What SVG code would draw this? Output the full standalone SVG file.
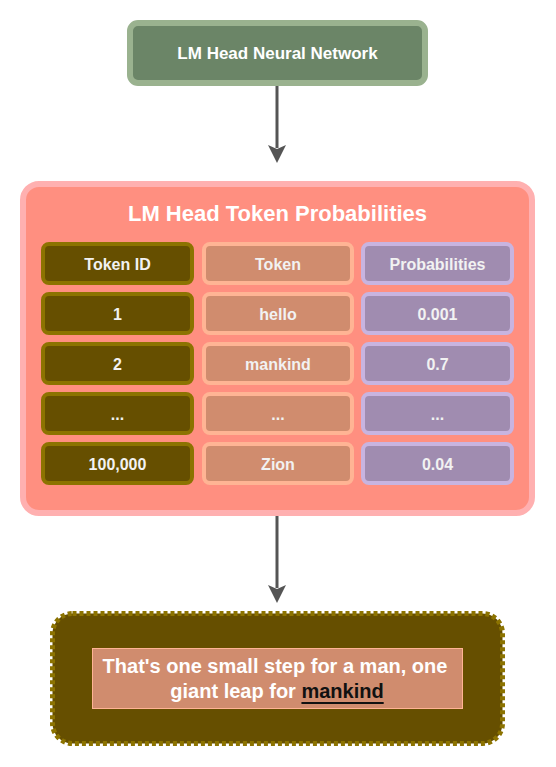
<svg xmlns="http://www.w3.org/2000/svg" width="556" height="767" viewBox="0 0 556 767">
<style>
text{font-family:"Liberation Sans",Arial,sans-serif;font-weight:bold;text-anchor:middle;dominant-baseline:central}
.c1{fill:#664f00;stroke:#8c7300;stroke-width:4}
.c2{fill:#d08c6e;stroke:#ffb494;stroke-width:4}
.c3{fill:#a08cb0;stroke:#c8b4e0;stroke-width:4}
.t{font-size:16px;fill:#f2f2f2}
.conn{stroke:#555;stroke-width:3;fill:none}
</style>
<rect width="556" height="767" fill="#ffffff"/>
<g id="connectors">
<line class="conn" x1="277" y1="86" x2="277" y2="148"/>
<path d="M268,145 L277,149 L286,145 L277,163 Z" fill="#555"/>
<line class="conn" x1="277" y1="516" x2="277" y2="588"/>
<path d="M268,585 L277,589 L286,585 L277,603 Z" fill="#555"/>
</g>
<g id="lm-head">
<rect x="130" y="23" width="295" height="60" rx="8" fill="#6b8567" stroke="#9ab28f" stroke-width="6"/>
<text x="277.5" y="53" font-size="17" fill="#ffffff">LM Head Neural Network</text>
</g>
<g id="probabilities">
<rect x="23" y="184" width="509" height="329" rx="16" fill="#ff8f80" stroke="#ffb0b0" stroke-width="6"/>
<text x="277.5" y="213" font-size="22" fill="#ffffff">LM Head Token Probabilities</text>
<g id="row-header">
<rect class="c1" x="43" y="244" width="149" height="39" rx="6"/><text class="t" x="117.5" y="264">Token ID</text>
<rect class="c2" x="204" y="244" width="148" height="39" rx="6"/><text class="t" x="278" y="264">Token</text>
<rect class="c3" x="363" y="244" width="149" height="39" rx="6"/><text class="t" x="437.5" y="264">Probabilities</text>
</g>
<g id="row-1">
<rect class="c1" x="43" y="294" width="149" height="39" rx="6"/><text class="t" x="117.5" y="314">1</text>
<rect class="c2" x="204" y="294" width="148" height="39" rx="6"/><text class="t" x="278" y="314">hello</text>
<rect class="c3" x="363" y="294" width="149" height="39" rx="6"/><text class="t" x="437.5" y="314">0.001</text>
</g>
<g id="row-2">
<rect class="c1" x="43" y="344" width="149" height="39" rx="6"/><text class="t" x="117.5" y="364">2</text>
<rect class="c2" x="204" y="344" width="148" height="39" rx="6"/><text class="t" x="278" y="364">mankind</text>
<rect class="c3" x="363" y="344" width="149" height="39" rx="6"/><text class="t" x="437.5" y="364">0.7</text>
</g>
<g id="row-3">
<rect class="c1" x="43" y="394" width="149" height="39" rx="6"/><text class="t" x="117.5" y="414">...</text>
<rect class="c2" x="204" y="394" width="148" height="39" rx="6"/><text class="t" x="278" y="414">...</text>
<rect class="c3" x="363" y="394" width="149" height="39" rx="6"/><text class="t" x="437.5" y="414">...</text>
</g>
<g id="row-4">
<rect class="c1" x="43" y="444" width="149" height="39" rx="6"/><text class="t" x="117.5" y="464">100,000</text>
<rect class="c2" x="204" y="444" width="148" height="39" rx="6"/><text class="t" x="278" y="464">Zion</text>
<rect class="c3" x="363" y="444" width="149" height="39" rx="6"/><text class="t" x="437.5" y="464">0.04</text>
</g>
</g>
<g id="output">
<rect x="52.5" y="613.5" width="450" height="130" rx="20" fill="#664f00" stroke="#8c7300" stroke-width="5" stroke-dasharray="4 3"/>
<rect x="92.5" y="648.5" width="370" height="60" fill="#d08c6e" stroke="#ffb494" stroke-width="1"/>
<text x="275" y="666" font-size="20" fill="#ffffff">That's one small step for a man, one</text>
<text x="277" y="691" font-size="20" fill="#ffffff">giant leap for <tspan fill="#111111" text-decoration="underline">mankind</tspan></text>
</g>
</svg>
